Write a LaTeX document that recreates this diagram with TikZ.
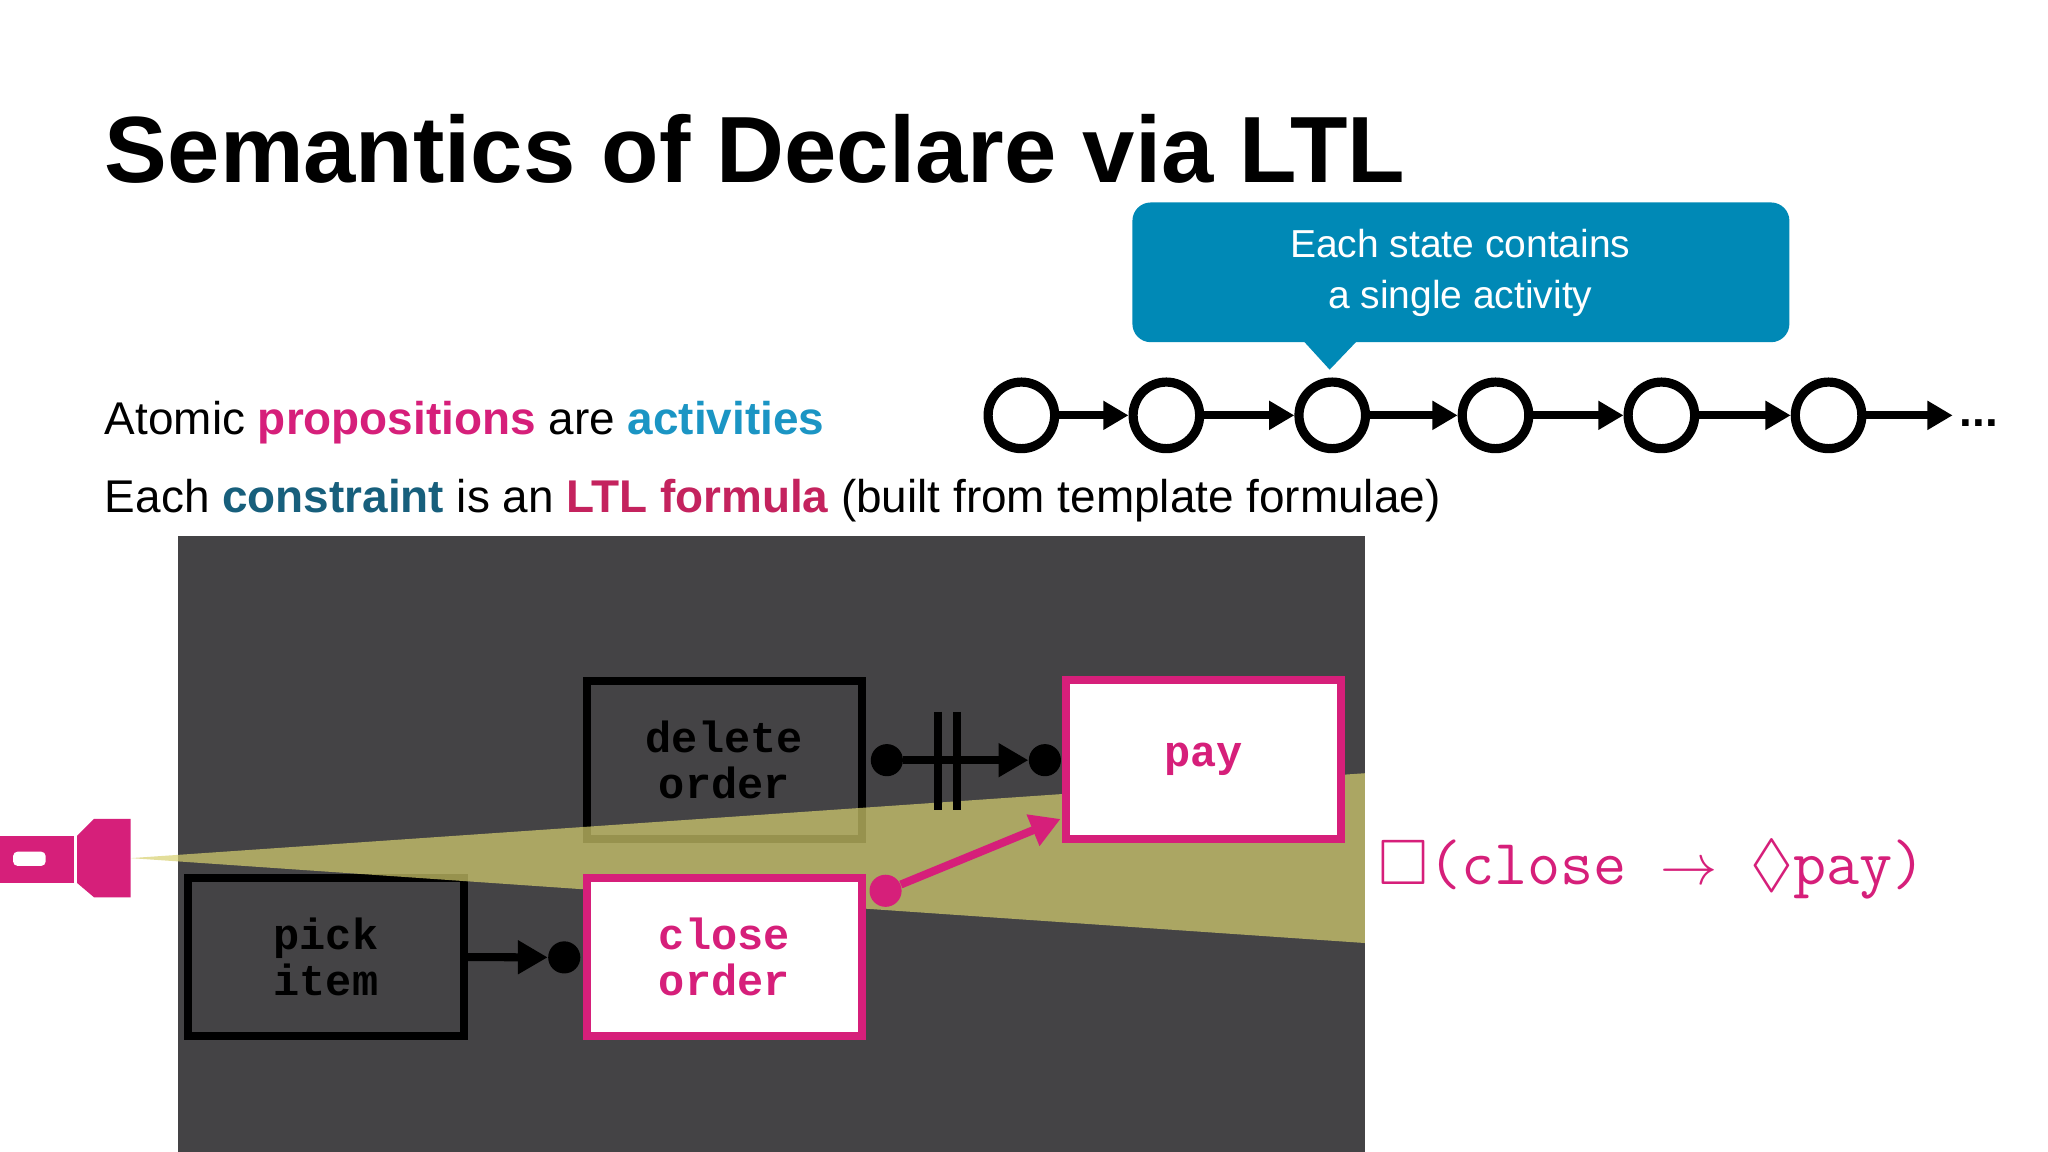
\documentclass[tikz,border=0pt]{standalone}
\usepackage{fontspec}
\usepackage{amssymb}
\setmainfont{Liberation Sans}
\newfontfamily\boxfont{Liberation Mono}
\usetikzlibrary{arrows.meta}
\definecolor{pk}{HTML}{D61F7A}
\definecolor{bl}{HTML}{1B95C4}
\definecolor{teal}{HTML}{175F7C}
\definecolor{crim}{HTML}{C4235E}
\definecolor{callout}{HTML}{0089B6}
\definecolor{dark}{HTML}{444345}
\definecolor{beam}{HTML}{D8D170}
\tikzset{
 st/.style={circle,draw=black,line width=4pt,minimum size=29pt,inner sep=0},
 ch/.style={line width=3.5pt,-{Triangle[length=11pt,width=12pt]}},
 act/.style={draw=black,line width=3.5pt,minimum width=120pt,minimum height=69pt,font=\boxfont\bfseries\fontsize{19}{20}\selectfont,align=center,text=black},
 hot/.style={act,draw=pk,fill=white,text=pk},
 dot/.style={circle,fill,inner sep=0,minimum size=14pt},
}
\begin{document}
\begin{tikzpicture}[x=0.02cm,y=-0.02cm]
\useasboundingbox (0,0) rectangle (1568,882);
\fill[white] (0,0) rectangle (1568,882);
\node[anchor=base west,inner sep=0,font=\bfseries\fontsize{41}{45}\selectfont] (title) at (80,140) {Semantics of Declare via LTL};
% callout
\fill[callout,rounded corners=8pt] (867,155) rectangle (1370,262);
\fill[callout] (997,260) -- (1018,283) -- (1040,260) -- cycle;
\node[text=white,align=center,font=\fontsize{17}{22}\selectfont] (cl) at (1118,209) {Each state contains\\a single activity};
% chain
\foreach \i/\x in {1/782,2/893,3/1020,4/1145,5/1272,6/1400}{\node[st] (s\i) at (\x,318) {};}
\foreach \a/\b in {1/2,2/3,3/4,4/5,5/6}{\draw[ch] (s\a) -- (s\b);}
\coordinate (end) at (1495,318);
\draw[ch] (s6) -- (end);
\node[font=\bfseries\fontsize{20}{20}\selectfont,anchor=west,inner sep=0] (dots) at (1500,324) {...};
% text lines
\node[anchor=base west,inner sep=0,font=\fontsize{20}{24}\selectfont] (l1) at (80,333) {Atomic \textcolor{pk}{\bfseries propositions} are \textcolor{bl}{\bfseries activities}};
\node[anchor=base west,inner sep=0,font=\fontsize{20}{24}\selectfont] (l2) at (80,392) {Each \textcolor{teal}{\bfseries constraint} is an \textcolor{crim}{\bfseries LTL formula} (built from template formulae)};
% dark panel
\fill[dark] (136,410) rectangle (1045,882);
\node[act] (del) at (554.5,582) {delete\\order};
\node[act] (pick) at (249.5,732.5) {pick\\item};
% beam
\fill[beam,opacity=0.7] (100,657) -- (1045,592) -- (1045,722) -- cycle;
\node[hot] (close) at (554.5,732.5) {close\\order};
\node[hot] (pay) at (921.5,581.5) {pay};
% flashlight
\fill[pk] (0,640) rectangle (57,676);
\fill[pk] (59,640) -- (72,627) -- (100,627) -- (100,687) -- (72,687) -- (59,676) -- cycle;
\fill[white,rounded corners=2pt] (10,652) rectangle (35,663);
% connectors
\node[dot] (d1) at (432,733) {};
\draw[line width=3.5pt,-{Triangle[length=13pt,width=14pt]}] (pick) -- (d1);
\node[dot] (d2) at (679,582) {};
\node[dot] (d3) at (800,582) {};
\draw[line width=3.5pt,-{Triangle[length=13pt,width=14pt]}] (d2) -- (d3);
\draw[line width=3.5pt] (718,545) -- (718,620) (733,545) -- (733,620);
\node[dot,fill=pk] (d4) at (678,682) {};
\coordinate (pin) at (812,627);
\draw[pk,line width=3.5pt,-{Triangle[length=13pt,width=14pt]}] (d4) -- (pin);
% formula
\node[anchor=west,text=pk,inner sep=0,font=\ttfamily\fontsize{28}{30}\selectfont] (f) at (1055,666) {$\Box$(close $\rightarrow$ $\Diamond$pay)};
\end{tikzpicture}
\end{document}
